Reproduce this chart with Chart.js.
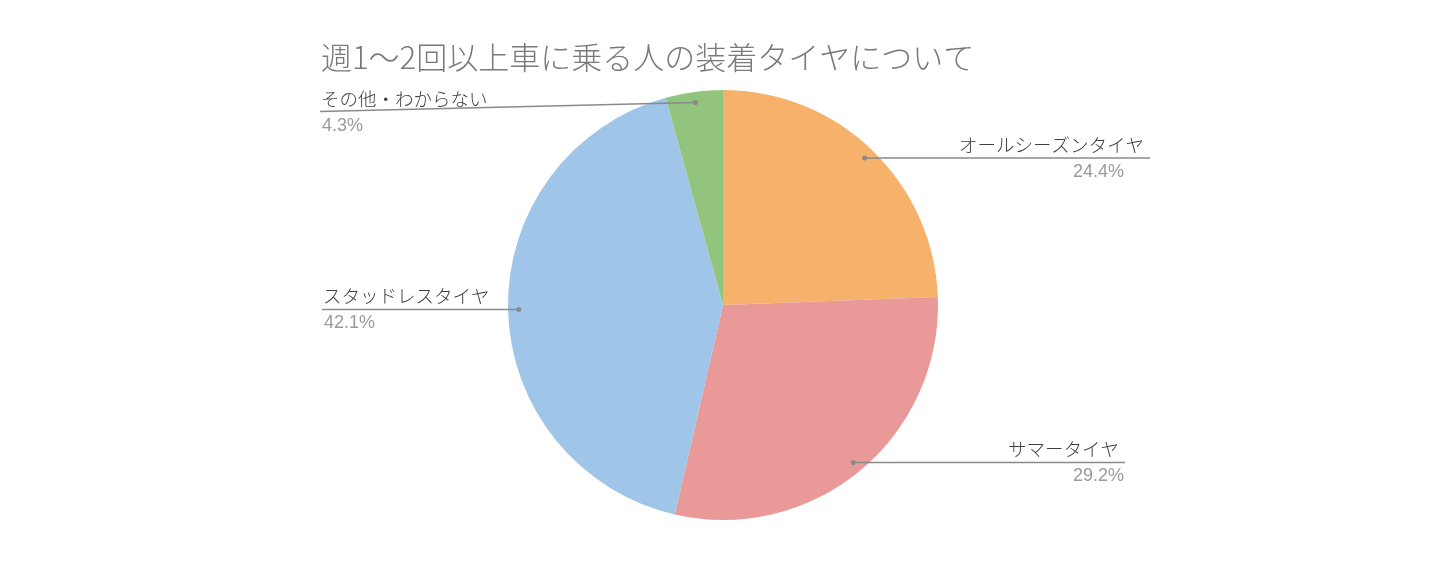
<!DOCTYPE html>
<html lang="ja">
<head>
<meta charset="utf-8">
<title>装着タイヤ</title>
<script src="https://cdn.jsdelivr.net/npm/chart.js@4/dist/chart.umd.min.js"></script>
<style>
  html, body { margin: 0; padding: 0; background: #fff; }
  #wrap { width: 1452px; height: 563px; position: relative; }
</style>
</head>
<body>
<div id="wrap"><canvas id="tireChart"></canvas></div>
<script>
// Chart data
const chartTitle = '週1～2回以上車に乗る人の装着タイヤについて';
const categories = ['オールシーズンタイヤ', 'サマータイヤ', 'スタッドレスタイヤ', 'その他・わからない'];
const shares = [24.4, 29.2, 42.1, 4.3];
const sliceColors = ['#F6B26B', '#EA9999', '#9FC5E8', '#93C47D'];

// Where each label line ends, measured from the pie centre
const labelReach = [427, 402, -401, -403];
const labelShiftY = [0, 0, 0, 9];
const percentInset = [26, 1, 2, 2];

// Draws the title and the outside labels with leader lines
const pieLabels = {
  id: 'pieLabels',
  afterDraw(chart) {
    const ctx = chart.ctx;
    ctx.save();

    ctx.fillStyle = '#7a7a7a';
    ctx.font = '300 31px "Noto Sans CJK JP", "Noto Sans", sans-serif';
    ctx.textAlign = 'left';
    ctx.textBaseline = 'alphabetic';
    ctx.fillText(chartTitle, 321, 69);

    const arcs = chart.getDatasetMeta(0).data;
    arcs.forEach((arc, i) => {
      const mid = (arc.startAngle + arc.endAngle) / 2;
      const r = arc.outerRadius * 0.95;
      const dotX = arc.x + Math.cos(mid) * r;
      const dotY = arc.y + Math.sin(mid) * r;
      const endX = arc.x + labelReach[i];
      const endY = dotY + labelShiftY[i];

      // leader line
      ctx.strokeStyle = '#8a8a8a';
      ctx.lineWidth = 1.5;
      ctx.beginPath();
      ctx.moveTo(dotX, dotY);
      ctx.lineTo(endX, endY);
      ctx.stroke();

      ctx.fillStyle = '#8a8a8a';
      ctx.beginPath();
      ctx.arc(dotX, dotY, 2.5, 0, Math.PI * 2);
      ctx.fill();

      // texts
      const right = labelReach[i] > 0;
      ctx.textAlign = right ? 'right' : 'left';

      ctx.fillStyle = '#404040';
      ctx.font = '300 18.5px "Noto Sans CJK JP", "Noto Sans", sans-serif';
      ctx.textBaseline = 'alphabetic';
      ctx.fillText(categories[i], right ? endX - 6 : endX + 1, endY - 6);

      ctx.fillStyle = '#9a9a9a';
      ctx.font = '18px "Liberation Sans", Arial, sans-serif';
      ctx.textBaseline = 'top';
      const px = right ? endX - percentInset[i] : endX + percentInset[i];
      ctx.fillText(shares[i].toFixed(1) + '%', px, endY + 5);
    });

    ctx.restore();
  }
};

new Chart(document.getElementById('tireChart'), {
  type: 'pie',
  data: {
    labels: categories,
    datasets: [{
      data: shares,
      backgroundColor: sliceColors,
      borderWidth: 0
    }]
  },
  options: {
    responsive: true,
    maintainAspectRatio: false,
    animation: false,
    layout: {
      padding: { top: 90, bottom: 43, left: 508, right: 514 }
    },
    plugins: {
      legend: { display: false },
      title: { display: false },
      tooltip: { enabled: false }
    }
  },
  plugins: [pieLabels]
});
</script>
</body>
</html>
